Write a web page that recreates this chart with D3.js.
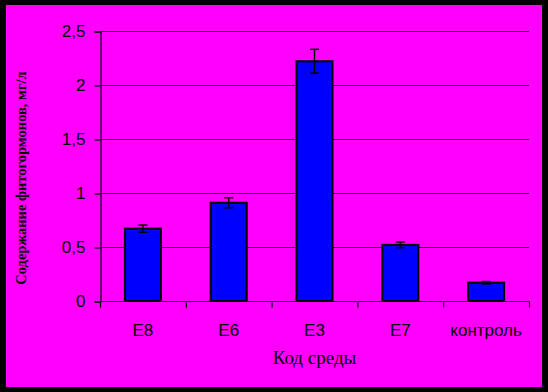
<!DOCTYPE html>
<html>
<head>
<meta charset="utf-8">
<script src="https://cdn.jsdelivr.net/npm/d3@7"></script>
<style>
    body { margin: 0; background: #000; }
    svg { display: block; }
</style>
</head>
<body>
<svg width="548" height="392"></svg>
<script>
const categories = ["E8", "E6", "E3", "E7", "контроль"];
const values = [0.67, 0.91, 2.22, 0.52, 0.17];
const errors = [0.033, 0.046, 0.11, 0.026, 0.01];
const yTicks = [0, 0.5, 1, 1.5, 2, 2.5];

const svg = d3.select("svg");
const plot = { left: 100, right: 529, top: 31, bottom: 301 };

const data = categories.map((c, i) => ({ cat: c, value: values[i], err: errors[i] }));

// panel
svg.append("rect")
    .attr("x", 6)
    .attr("y", 5)
    .attr("width", 536)
    .attr("height", 382)
    .attr("fill", "#ff00ff");

const x = d3.scaleBand().domain(categories).range([plot.left, plot.right]).padding(0);
const y = d3.scaleLinear().domain([0, 2.5]).range([plot.bottom, plot.top]);

const fmt = d => String(d).replace(".", ",");

// grid
svg.append("g")
    .selectAll("line")
    .data(yTicks.filter(d => d > 0))
    .join("line")
    .attr("x1", plot.left)
    .attr("x2", plot.right)
    .attr("y1", d => y(d) + 0.5)
    .attr("y2", d => y(d) + 0.5)
    .attr("stroke", "#000")
    .attr("stroke-width", 1);

// y axis
const yAxis = svg.append("g")
    .attr("transform", `translate(${plot.left + 0.5},0.5)`)
    .call(d3.axisLeft(y).tickValues(yTicks).tickFormat(fmt).tickSize(6).tickPadding(9));
yAxis.select(".domain").attr("stroke", "#000").attr("stroke-width", 1.2);
yAxis.selectAll(".tick line").attr("stroke", "#000").attr("stroke-width", 1.2);
yAxis.selectAll(".tick text")
    .attr("fill", "#000")
    .style("font-family", "'Liberation Sans', Arial, sans-serif")
    .style("font-size", "17px");

// x axis
const xAxis = svg.append("g")
    .attr("transform", `translate(0,${plot.bottom + 0.5})`);
xAxis.append("line")
    .attr("x1", plot.left)
    .attr("x2", plot.right)
    .attr("stroke", "#000")
    .attr("stroke-width", 1.2);
const bounds = categories.map(c => x(c)).concat([plot.right]);
xAxis.selectAll("line.tk")
    .data(bounds)
    .join("line")
    .attr("class", "tk")
    .attr("x1", d => d + 0.5)
    .attr("x2", d => d + 0.5)
    .attr("y1", 0)
    .attr("y2", 6)
    .attr("stroke", "#000")
    .attr("stroke-width", 1.2);
xAxis.selectAll("text")
    .data(categories)
    .join("text")
    .attr("x", d => x(d) + x.bandwidth() / 2)
    .attr("y", 34.5)
    .attr("text-anchor", "middle")
    .attr("fill", "#000")
    .style("font-family", "'Liberation Sans', Arial, sans-serif")
    .style("font-size", "17px")
    .text(d => d);

// bars
const bw = x.bandwidth() * 0.42;
svg.append("g")
    .selectAll("rect")
    .data(data)
    .join("rect")
    .attr("x", d => x(d.cat) + (x.bandwidth() - bw) / 2)
    .attr("y", d => y(d.value))
    .attr("width", bw)
    .attr("height", d => y(0) - y(d.value))
    .attr("fill", "#0000ff")
    .attr("stroke", "#000")
    .attr("stroke-width", 2);

// error bars
const eb = svg.append("g").attr("stroke", "#000").attr("stroke-width", 1.5);
data.forEach(d => {
    const cx = x(d.cat) + x.bandwidth() / 2;
    eb.append("line")
        .attr("x1", cx).attr("x2", cx)
        .attr("y1", y(d.value + d.err)).attr("y2", y(d.value - d.err));
    [d.value + d.err, d.value - d.err].forEach(v => {
        eb.append("line")
            .attr("x1", cx - 4.5).attr("x2", cx + 4.5)
            .attr("y1", y(v)).attr("y2", y(v));
    });
});

// axis titles
svg.append("text")
    .attr("x", (plot.left + plot.right) / 2)
    .attr("y", 364)
    .attr("text-anchor", "middle")
    .attr("fill", "#000")
    .style("font-family", "'Liberation Serif', 'Times New Roman', serif")
    .style("font-size", "19px")
    .text("Код среды");

svg.append("text")
    .attr("transform", "translate(26,178) rotate(-90)")
    .attr("text-anchor", "middle")
    .attr("fill", "#000")
    .style("font-family", "'Liberation Serif', 'Times New Roman', serif")
    .style("font-size", "14.5px")
    .style("font-weight", "bold")
    .text("Содержание фитогормонов, мг/л");
</script>
</body>
</html>
